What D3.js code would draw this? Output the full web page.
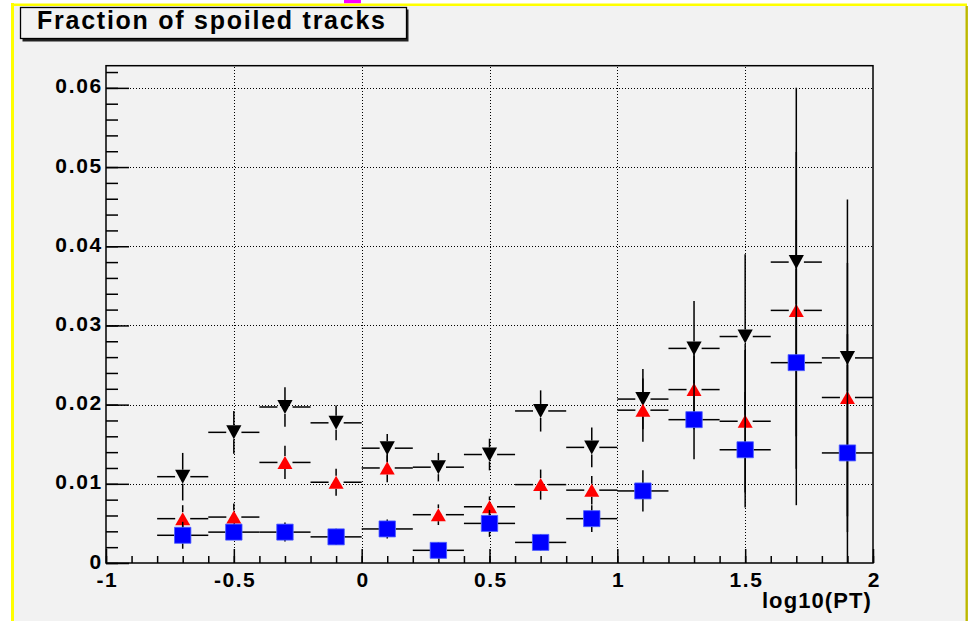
<!DOCTYPE html>
<html><head><meta charset="utf-8">
<script src="https://cdn.jsdelivr.net/npm/d3@7"></script>
<style>
body{margin:0;background:#fff;}
svg{display:block;}
text{font-family:"Liberation Sans",Arial,Helvetica,sans-serif;font-weight:bold;fill:#000;}
</style>
</head><body>
<svg id="chart" width="969" height="621"></svg>
<script>
// ---------------- data ----------------
const binCenters = [-0.7,-0.5,-0.3,-0.1,0.1,0.3,0.5,0.7,0.9,1.1,1.3,1.5,1.7,1.9];
const binHalfWidth = 0.1;
const blackValues = [0.0109,0.0165,0.0197,0.0177,0.0145,0.0121,0.0137,0.0192,0.0146,0.0207,0.0271,0.0286,0.0380,0.0259];
const blackErrors = [0.0030,0.0027,0.0025,0.0022,0.0018,0.0018,0.0020,0.0026,0.0025,0.0038,0.0060,0.0104,0.0220,0.0200];
const redValues   = [0.0056,0.0058,0.0127,0.0102,0.0120,0.0061,0.0071,0.0099,0.0092,0.0193,0.0219,0.0179,0.0319,0.0209];
const redErrors   = [0.0017,0.0017,0.0021,0.0017,0.0018,0.0013,0.0013,0.0019,0.0018,0.0040,0.0050,0.0090,0.0200,0.0170];
const blueValues  = [0.0035,0.0039,0.0039,0.0033,0.0043,0.0016,0.0050,0.0026,0.0056,0.0091,0.0181,0.0143,0.0253,0.0139];
const blueErrors  = [0.0017,0.0009,0.0012,0.0009,0.0012,0.0007,0.0017,0.0007,0.0017,0.0026,0.0050,0.0073,0.0180,0.0150];
const xTickValues = [-1,-0.5,0,0.5,1,1.5,2];
const xTickLabels = ["-1","-0.5","0","0.5","1","1.5","2"];
const yTickValues = [0,0.01,0.02,0.03,0.04,0.05,0.06];
const yTickLabels = ["0","0.01","0.02","0.03","0.04","0.05","0.06"];
const titleText = "Fraction of spoiled tracks";
const xAxisTitle = "log10(PT)";

// ---------------- layout ----------------
const svg = d3.select("#chart");
const W = 969, H = 621;
const frame = {left:106, right:873, top:65.7, bottom:563};
const x = d3.scaleLinear().domain([-1,2]).range([frame.left, frame.right]);
const y = d3.scaleLinear().domain([0,0.0628]).range([frame.bottom, frame.top]);

// canvas background with yellow border
svg.append("rect").attr("x",0).attr("y",0).attr("width",W).attr("height",H).attr("fill","#ffffff");
svg.append("rect").attr("x",12).attr("y",4.5).attr("width",955).attr("height",H).attr("fill","#f2f2f2");
svg.append("line").attr("x1",12.5).attr("x2",12.5).attr("y1",3).attr("y2",H).attr("stroke","#ffff00").attr("stroke-width",3);
svg.append("line").attr("x1",11).attr("x2",967).attr("y1",4.7).attr("y2",4.7).attr("stroke","#ffff00").attr("stroke-width",2.6);
svg.append("line").attr("x1",966.7).attr("x2",966.7).attr("y1",6).attr("y2",H).attr("stroke","#bdb800").attr("stroke-width",2.4);
svg.append("rect").attr("x",344).attr("y",0).attr("width",17).attr("height",3.2).attr("fill","#ff00ff");

// plot area
svg.append("rect").attr("x",frame.left).attr("y",frame.top)
  .attr("width",frame.right-frame.left).attr("height",frame.bottom-frame.top).attr("fill","#f2f2f2");

// grid
const gridG = svg.append("g");
gridG.selectAll("line.gx").data(xTickValues.slice(1,-1)).join("line")
  .attr("x1",d=>Math.round(x(d))+0.5).attr("x2",d=>Math.round(x(d))+0.5)
  .attr("y1",frame.bottom).attr("y2",frame.top)
  .attr("stroke","#000").attr("stroke-width",1).attr("stroke-dasharray","1,2");
gridG.selectAll("line.gy").data(yTickValues.slice(1)).join("line")
  .attr("y1",d=>Math.round(y(d))+0.5).attr("y2",d=>Math.round(y(d))+0.5)
  .attr("x1",frame.left).attr("x2",frame.right)
  .attr("stroke","#000").attr("stroke-width",1).attr("stroke-dasharray","1,2");

// axes
function styleAxis(g){
  g.select(".domain").remove();
  g.selectAll(".tick line").attr("stroke","#000").attr("stroke-width",1.5);
}
const xMinor = d3.range(-10,21).map(i=>i/10);
const yMinor = d3.range(0,32).map(i=>i*0.002);
svg.append("g").attr("transform",`translate(0,${frame.bottom})`)
  .call(d3.axisBottom(x).tickValues(xMinor).tickSize(-7).tickFormat(""))
  .call(styleAxis);
svg.append("g").attr("transform",`translate(${frame.left},0)`)
  .call(d3.axisLeft(y).tickValues(yMinor).tickSize(-12).tickFormat(""))
  .call(styleAxis);
const xAx = svg.append("g").attr("transform",`translate(0,${frame.bottom})`)
  .call(d3.axisBottom(x).tickValues(xTickValues).tickSize(-14).tickFormat((d,i)=>xTickLabels[i]))
  .call(styleAxis);
xAx.selectAll("text").attr("y",24).attr("dy",0).attr("dx",0.8)
  .style("font-size","21px").style("letter-spacing","1.5px").attr("fill","#000");
const yAx = svg.append("g").attr("transform",`translate(${frame.left},0)`)
  .call(d3.axisLeft(y).tickValues(yTickValues).tickSize(-23).tickFormat((d,i)=>yTickLabels[i]))
  .call(styleAxis);
yAx.selectAll("text").attr("x",-3).attr("dy",5)
  .style("font-size","21px").style("letter-spacing","1.7px").attr("fill","#000");

// frame
svg.append("rect").attr("x",frame.left).attr("y",frame.top)
  .attr("width",frame.right-frame.left).attr("height",frame.bottom-frame.top)
  .attr("fill","none").attr("stroke","#000").attr("stroke-width",1.5);

// clip
svg.append("clipPath").attr("id","clip").append("rect")
  .attr("x",frame.left).attr("y",frame.top)
  .attr("width",frame.right-frame.left).attr("height",frame.bottom-frame.top);

// series
const series = [
  {name:"black", values:blackValues, errors:blackErrors, color:"#000000", marker:"down", hw:7.6, hh:7},
  {name:"red",   values:redValues,   errors:redErrors,   color:"#ff0000", marker:"up",   hw:7.5, hh:6.5},
  {name:"blue",  values:blueValues,  errors:blueErrors,  color:"#0000ff", marker:"square", hw:8.2, hh:8}
];
const plotG = svg.append("g").attr("clip-path","url(#clip)");
series.forEach(s=>{
  const pts = binCenters.map((c,i)=>({c, v:s.values[i], e:s.errors[i]}));
  const g = plotG.append("g");
  // horizontal error bars (with gap at marker)
  pts.forEach(p=>{
    const cx = x(p.c), cy = y(p.v);
    g.append("line").attr("x1",x(p.c-binHalfWidth)).attr("x2",cx-s.hw).attr("y1",cy).attr("y2",cy)
      .attr("stroke","#000").attr("stroke-width",1.5);
    g.append("line").attr("x1",cx+s.hw).attr("x2",x(p.c+binHalfWidth)).attr("y1",cy).attr("y2",cy)
      .attr("stroke","#000").attr("stroke-width",1.5);
    g.append("line").attr("x1",cx).attr("x2",cx).attr("y1",y(p.v+p.e)).attr("y2",cy-s.hh)
      .attr("stroke","#000").attr("stroke-width",1.5);
    g.append("line").attr("x1",cx).attr("x2",cx).attr("y1",cy+s.hh).attr("y2",y(Math.max(0,p.v-p.e)))
      .attr("stroke","#000").attr("stroke-width",1.5);
  });
  g.selectAll("path.m").data(pts).join("path")
    .attr("d",p=>{
      const cx = x(p.c), cy = y(p.v), a = s.hw, b = s.hh;
      const pa = d3.path();
      if(s.marker==="square"){ pa.rect(cx-a,cy-b,2*a,2*b); }
      else if(s.marker==="up"){ pa.moveTo(cx,cy-b); pa.lineTo(cx+a,cy+b); pa.lineTo(cx-a,cy+b); pa.closePath(); }
      else { pa.moveTo(cx-a,cy-b); pa.lineTo(cx+a,cy-b); pa.lineTo(cx,cy+b); pa.closePath(); }
      return pa.toString();
    })
    .attr("fill",s.color)
    .attr("stroke", s.marker==="square" ? "#4a5cff" : "none").attr("stroke-width",0.8);
});

// title box
svg.append("rect").attr("x",22.5).attr("y",9.5).attr("width",386).attr("height",32).attr("fill","#222");
svg.append("rect").attr("x",20.5).attr("y",7.5).attr("width",386).attr("height",31)
  .attr("fill","#f2f2f2").attr("stroke","#000").attr("stroke-width",1.3);
svg.append("text").attr("x",37).attr("y",28.5).text(titleText)
  .style("font-size","25px").style("letter-spacing","1.75px");

// x axis title
svg.append("text").attr("x",872).attr("y",608).attr("text-anchor","end").text(xAxisTitle)
  .style("font-size","22px").style("letter-spacing","1.1px");
</script>
</body></html>
